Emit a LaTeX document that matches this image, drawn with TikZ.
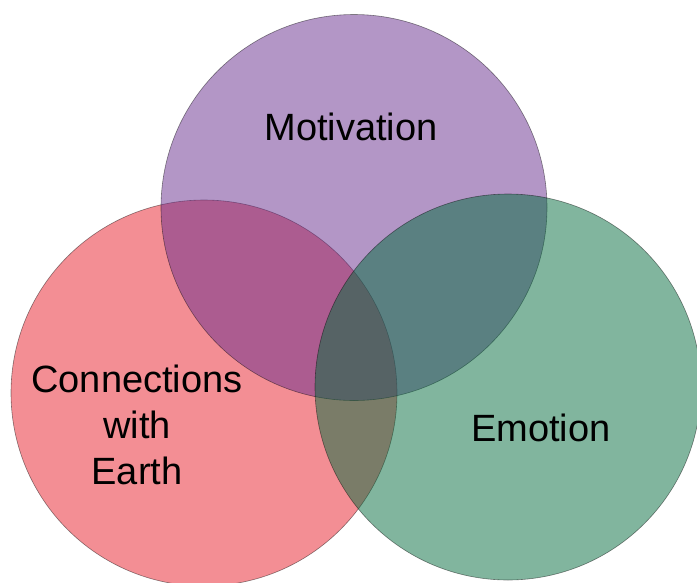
\documentclass[tikz,border=0pt]{standalone}
\usepackage{fontspec}
\setmainfont{Liberation Sans}
\usetikzlibrary{positioning}

\definecolor{earthred}{RGB}{231,29,41}
\definecolor{motpurple}{RGB}{103,45,141}
\definecolor{emogreen}{RGB}{3,107,61}

\begin{document}
\begin{tikzpicture}[x=1pt, y=-1pt, semithick,
    venn/.style={circle, minimum size=386pt, inner sep=0pt, fill opacity=0.5, draw=black, draw opacity=0.45},
    lbl/.style={align=center, font=\fontsize{38}{46}\selectfont}]
    \useasboundingbox (0,0) rectangle (697,582);
    \clip (0,0) rectangle (697,582);

    % the three sets, red under purple under green
    \node[venn, fill=earthred]  (earth) at (204,393)   {};
    \node[venn, fill=motpurple] (mot)   at (354,207.5) {};
    \node[venn, fill=emogreen]  (emo)   at (508,387)   {};

    % set names
    \node[lbl] (motlbl)   at (351,127) {Motivation};
    \node[lbl] (earthlbl) at (137,425) {Connections\\with\\Earth};
    \node[lbl] (emolbl)   at (541,428) {Emotion};
\end{tikzpicture}
\end{document}
